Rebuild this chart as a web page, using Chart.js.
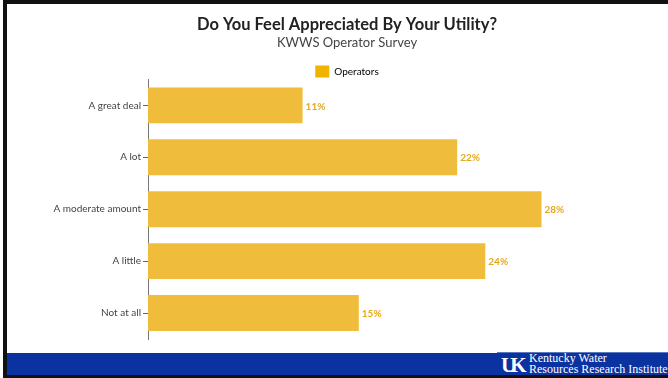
<!DOCTYPE html>
<html>
<head>
<meta charset="utf-8">
<script src="https://cdn.jsdelivr.net/npm/chart.js@4.4.0/dist/chart.umd.min.js"></script>
<style>
  html, body { margin: 0; padding: 0; background: #fff; width: 668px; height: 378px; overflow: hidden; position: relative; }
  #topbar { position: absolute; left: 3px; top: 0; width: 665px; height: 4px; background: #111; }
  #leftbar { position: absolute; left: 3px; top: 0; width: 4px; height: 378px; background: #111; }
  #bottombar { position: absolute; left: 3px; top: 375px; width: 665px; height: 3px; background: #111; }
  #band { position: absolute; left: 7px; top: 353px; width: 661px; height: 22px; background: #0a32a0; }
  #logo { position: absolute; left: 497px; top: 352px; width: 171px; height: 23px; background: #0a32a0; border-top: 1px solid #5a78c0; overflow: hidden; }
  #uk { position: absolute; left: 4px; top: 2px; font-family: "Liberation Serif", serif; font-weight: bold; color: #fff; font-size: 21px; line-height: 21px; letter-spacing: -6px; }
  #kw { position: absolute; left: 32px; top: 0px; font-family: "Liberation Serif", serif; color: #fff; font-size: 12px; line-height: 10.5px; white-space: nowrap; }
  #wrap { position: absolute; left: 7px; top: 4px; width: 661px; height: 349px; }
</style>
</head>
<body>
<div id="topbar"></div>
<div id="leftbar"></div>
<div id="wrap"><canvas id="c" width="661" height="349"></canvas></div>
<div id="band"></div>
<div id="logo"><div id="uk">UK</div><div id="kw">Kentucky Water<br>Resources Research Institute</div></div>
<div id="bottombar"></div>
<script>
const titleText = 'Do You Feel Appreciated By Your Utility?';
const subtitleText = 'KWWS Operator Survey';
const seriesName = 'Operators';
const categories = ['A great deal', 'A lot', 'A moderate amount', 'A little', 'Not at all'];
const values = [11, 22, 28, 24, 15];

const labelPlugin = {
  id: 'barLabels',
  beforeLayout(chart) {
    const lg = chart.legend;
    if (lg && !lg._patched) {
      const f = lg.fit.bind(lg);
      lg.fit = function () { f(); this.height -= 8; };
      lg._patched = true;
    }
  },
  afterDatasetsDraw(chart) {
    const ctx = chart.ctx;
    const meta = chart.getDatasetMeta(0);
    ctx.save();
    ctx.font = 'bold 10px Lato';
    ctx.fillStyle = '#e8a81a';
    ctx.textAlign = 'left';
    ctx.textBaseline = 'middle';
    meta.data.forEach((bar, i) => {
      ctx.fillText(values[i] + '%', bar.x + 3, bar.y + 1);
    });
    ctx.restore();
  }
};

new Chart(document.getElementById('c'), {
  type: 'bar',
  data: {
    labels: categories,
    datasets: [{
      label: seriesName,
      data: values,
      backgroundColor: '#f0bc3c',
      borderWidth: 0,
      categoryPercentage: 1,
      barPercentage: 0.692
    }]
  },
  options: {
    indexAxis: 'y',
    responsive: false,
    animation: false,
    layout: { padding: { left: 19, right: 0, top: 0, bottom: 14 } },
    plugins: {
      title: {
        display: true, text: titleText, color: '#222',
        font: { family: 'Lato', size: 16.5, weight: 'bold' },
        padding: { top: 11, bottom: 0 }
      },
      subtitle: {
        display: true, text: subtitleText, color: '#444',
        font: { family: 'Lato', size: 13 },
        padding: { top: 0, bottom: 9 }
      },
      legend: {
        display: true,
        labels: {
          boxWidth: 14, boxHeight: 12, color: '#555', padding: 6,
          font: { family: 'Lato', size: 10 },
          generateLabels: () => [{ text: seriesName, fillStyle: '#f0b400', strokeStyle: '#f0b400', lineWidth: 0, datasetIndex: 0 }]
        }
      },
      tooltip: { enabled: false }
    },
    scales: {
      x: {
        display: false, min: 0, max: 37
      },
      y: {
        afterFit(scale) { scale.width = 122; },
        grid: { display: true, offset: false, drawOnChartArea: false, drawTicks: true, tickLength: 5, color: '#666' },
        border: { display: true, color: '#777', width: 1 },
        ticks: { color: '#444', font: { family: 'Lato', size: 10 }, padding: 2 }
      }
    }
  },
  plugins: [labelPlugin]
});
</script>
</body>
</html>
